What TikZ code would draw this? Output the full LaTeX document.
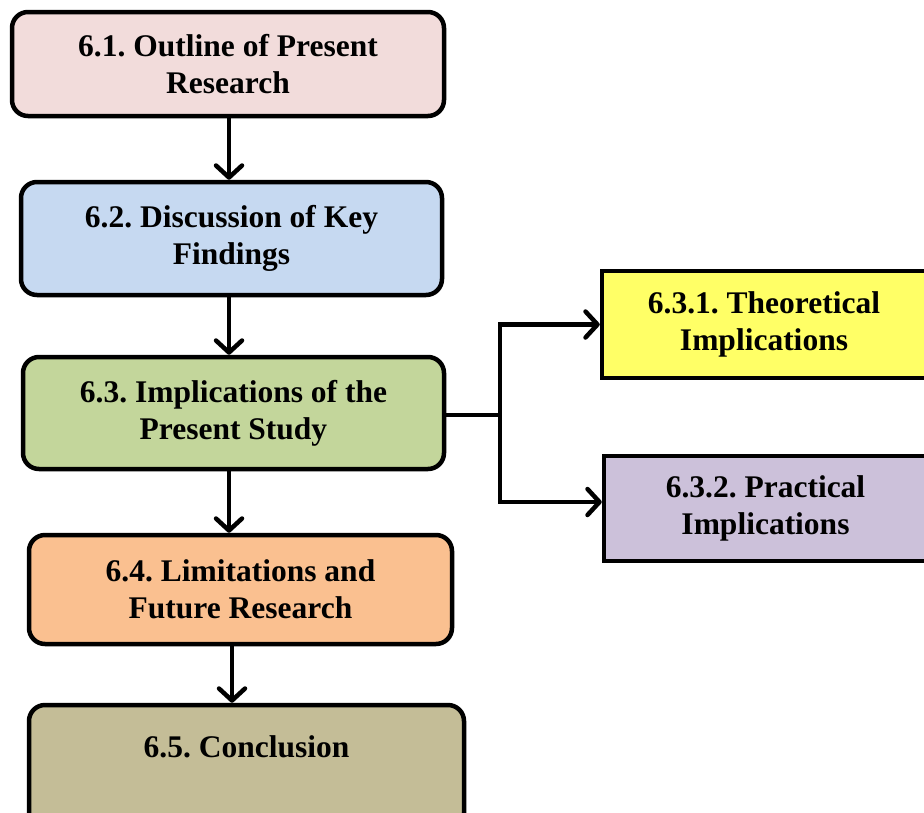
\documentclass[tikz,border=0pt]{standalone}
\usepackage{fontspec}
\setmainfont{Liberation Serif}
\usetikzlibrary{arrows.meta}
\frenchspacing

\definecolor{boxpink}{HTML}{F2DCDB}
\definecolor{boxblue}{HTML}{C6D9F1}
\definecolor{boxgreen}{HTML}{C3D69B}
\definecolor{boxorange}{HTML}{FAC090}
\definecolor{boxtan}{HTML}{C4BD97}
\definecolor{boxyellow}{HTML}{FFFF66}
\definecolor{boxlilac}{HTML}{CCC1DA}

\tikzset{
  sectionbox/.style={draw=black, line width=4.5pt, rounded corners=16pt,
    align=center, inner sep=0pt,
    font=\bfseries\fontsize{31.5}{37}\selectfont},
  subbox/.style={sectionbox, rounded corners=0pt},
  flow/.style={line width=4.5pt,
    -{Straight Barb[length=12pt,width=26pt,line join=round,line cap=round]}},
  link/.style={line width=4.5pt}
}

\begin{document}
\begin{tikzpicture}[x=1pt,y=-1pt]
  \useasboundingbox (0,0) rectangle (924,812);
  \clip (0,0) rectangle (924,812);
  \fill[white] (0,0) rectangle (924,812);

  % main column of chapter sections
  \node[sectionbox, fill=boxpink, minimum width=432pt, minimum height=104pt]
    (s1) at (228,64) {6.1. Outline of Present\\Research};
  \node[sectionbox, fill=boxblue, minimum width=421pt, minimum height=113pt]
    (s2) at (231.5,238.5) {6.2. Discussion of Key\\Findings};
  \node[sectionbox, fill=boxgreen, minimum width=421pt, minimum height=112pt]
    (s3) at (233.5,413) {6.3. Implications of the\\Present Study};
  \node[sectionbox, fill=boxorange, minimum width=423pt, minimum height=109pt]
    (s4) at (240.5,589.5) {6.4. Limitations and\\Future Research};
  \node[sectionbox, fill=boxtan, minimum width=435pt,
    text height=52pt, text depth=72pt, anchor=base]
    (s5) at (246.5,757) {6.5. Conclusion};

  % subsections of 6.3
  \node[subbox, fill=boxyellow, minimum width=324pt, minimum height=107pt]
    (s31) at (764,324.5) {6.3.1. Theoretical\\Implications};
  \node[subbox, fill=boxlilac, minimum width=323pt, minimum height=105pt]
    (s32) at (765.5,508.5) {6.3.2. Practical\\Implications};

  % connectors
  \coordinate (col) at (229,0);
  \coordinate (col5) at (232,0);
  \coordinate (fork) at (500,415);
  \coordinate (lower) at (500,502);

  \draw[flow] (s1.south -| col) -- (s2.north -| col);
  \draw[flow] (s2.south -| col) -- (s3.north -| col);
  \draw[flow] (s3.south -| col) -- (s4.north -| col);
  \draw[flow] (s4.south -| col5) -- (s5.north -| col5);

  \draw[link] (s3.east |- fork) -- (fork);
  \draw[flow] (fork) |- (s31.west);
  \draw[flow] (fork) |- (s32.west |- lower);
\end{tikzpicture}
\end{document}
